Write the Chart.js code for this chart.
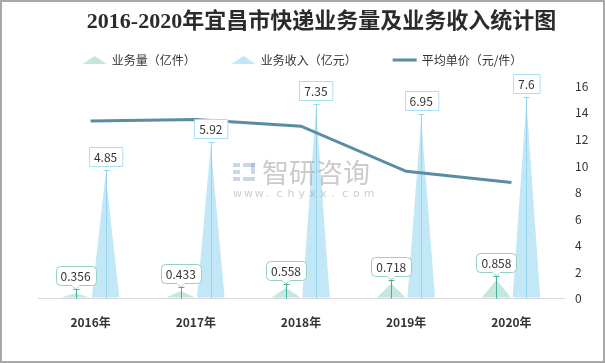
<!DOCTYPE html>
<html>
<head>
<meta charset="utf-8">
<script src="https://cdn.jsdelivr.net/npm/chart.js@4.4.0/dist/chart.umd.min.js"></script>
<style>
  html, body { margin: 0; padding: 0; background: #fff; }
</style>
</head>
<body>
<canvas id="chart" width="605" height="363"></canvas>
<script>
// data
const years     = ["2016年", "2017年", "2018年", "2019年", "2020年"];
const volume    = [0.356, 0.433, 0.558, 0.718, 0.858];   // 业务量（亿件）
const revenue   = [4.85, 5.92, 7.35, 6.95, 7.6];         // 业务收入（亿元）
const unitPrice = [13.4, 13.5, 13.0, 9.6, 8.75];         // 平均单价（元/件）
const leftMax   = 8;
const rightMax  = 16;
const rightStep = 2;

const CJK = '"Noto Sans CJK SC", "Liberation Sans", sans-serif';

// triangles + stems drawn on the library's bar elements
const spikes = {
    id: "spikes",
    afterDatasetDraw(chart, args) {
        const ds = chart.data.datasets[args.index];
        if (!ds.spike) return;
        const ctx = chart.ctx;
        args.meta.data.forEach(el => {
            const { x, y, base, width } = el.getProps(["x", "y", "base", "width"], true);
            ctx.save();
            ctx.fillStyle = ds.spike.fill;
            ctx.beginPath();
            ctx.moveTo(x - width / 2, base - 1);
            ctx.lineTo(x, y + 4);
            ctx.lineTo(x + width / 2, base - 1);
            ctx.closePath();
            ctx.fill();
            const sx = Math.round(x) + 0.5, sy = Math.round(y) + 0.5;
            ctx.strokeStyle = ds.spike.stem;
            ctx.lineWidth = 1;
            ctx.beginPath();
            ctx.moveTo(sx, base);
            ctx.lineTo(sx, sy);
            ctx.moveTo(sx - 3, sy);
            ctx.lineTo(sx + 3, sy);
            ctx.stroke();
            ctx.restore();
        });
    },
    afterDatasetsDraw(chart) {
        const ctx = chart.ctx;
        chart.data.datasets.forEach((ds, di) => {
            if (!ds.spike) return;
            const meta = chart.getDatasetMeta(di);
            meta.data.forEach((el, i) => {
                const { x, y } = el.getProps(["x", "y"], true);
                const txt = String(ds.data[i]);
                ctx.save();
                ctx.font = "12px " + CJK;
                const w = ctx.measureText(txt).width + 10, h = 19;
                const bx = Math.round(x - w / 2) + 0.5;
                const by = Math.round(y - 4 - h) + 0.5;
                ctx.fillStyle = "#fff";
                ctx.strokeStyle = ds.spike.label;
                ctx.lineWidth = 1;
                ctx.beginPath();
                if (ds.spike.rounded) {
                    ctx.roundRect(bx, by, w, h, 4);
                } else {
                    ctx.rect(bx, by, w, h);
                }
                ctx.fill();
                ctx.stroke();
                if (ds.spike.rounded) {
                    // little tail down to the tip
                    ctx.beginPath();
                    ctx.moveTo(x - 4, by + h);
                    ctx.lineTo(x, y);
                    ctx.lineTo(x + 4, by + h);
                    ctx.fillStyle = "#fff";
                    ctx.fill();
                    ctx.stroke();
                    ctx.fillRect(x - 3.5, by + h - 1, 7, 2);
                }
                ctx.fillStyle = "#333";
                ctx.textAlign = "center";
                ctx.textBaseline = "middle";
                ctx.fillText(txt, x, by + h / 2 + 0.5);
                ctx.restore();
            });
        });
    }
};

// custom legend, white background, watermark, frame
const decor = {
    id: "decor",
    beforeDraw(chart) {
        const ctx = chart.ctx;
        ctx.save();
        ctx.fillStyle = "#fff";
        ctx.fillRect(0, 0, chart.width, chart.height);
        ctx.restore();
    },
    afterDraw(chart) {
        const ctx = chart.ctx;
        ctx.save();

        // legend
        const items = [
            { text: "业务量（亿件）",   kind: "tri",  color: "#c3e5de" },
            { text: "业务收入（亿元）", kind: "tri",  color: "#bfe7f6" },
            { text: "平均单价（元/件）", kind: "line", color: "#5a8da2" }
        ];
        ctx.font = "12px " + CJK;
        const iconW = 24, gapT = 5, gapI = 36, ly = 60;
        const widths = items.map(it => iconW + gapT + ctx.measureText(it.text).width);
        const total = widths.reduce((a, b) => a + b, 0) + gapI * (items.length - 1);
        let lx = chart.width / 2 - total / 2;
        items.forEach((it, k) => {
            if (it.kind === "tri") {
                ctx.fillStyle = it.color;
                ctx.beginPath();
                ctx.moveTo(lx, ly + 4);
                ctx.lineTo(lx + iconW / 2, ly - 4);
                ctx.lineTo(lx + iconW, ly + 4);
                ctx.closePath();
                ctx.fill();
            } else {
                ctx.strokeStyle = it.color;
                ctx.lineWidth = 3;
                ctx.beginPath();
                ctx.moveTo(lx, ly);
                ctx.lineTo(lx + iconW, ly);
                ctx.stroke();
            }
            ctx.fillStyle = "#333";
            ctx.textAlign = "left";
            ctx.textBaseline = "middle";
            ctx.fillText(it.text, lx + iconW + gapT, ly);
            lx += widths[k] + gapI;
        });

        // watermark
        ctx.globalAlpha = 0.45;
        ctx.fillStyle = "#8fa3cf";
        ctx.fillRect(233, 163, 7, 4);
        ctx.fillRect(233, 170, 7, 4);
        ctx.fillRect(233, 177, 7, 4);
        ctx.fillRect(243, 163, 12, 4);
        ctx.fillRect(251, 163, 4, 11);
        ctx.fillRect(243, 177, 12, 4);
        ctx.fillStyle = "#8c8c8c";
        ctx.font = "27px " + CJK;
        ctx.textAlign = "left";
        ctx.textBaseline = "middle";
        ctx.fillText("智研咨询", 262, 173);
        ctx.font = "11px \"DejaVu Sans\", sans-serif";
        const url = "www.chyxx.com";
        let ux = 233;
        for (const ch of url) {
            ctx.fillText(ch, ux, 194);
            ux += 10.9;
        }
        ctx.globalAlpha = 1;

        // frame
        ctx.strokeStyle = "#a8a8a8";
        ctx.lineWidth = 2;
        ctx.strokeRect(1, 1, chart.width - 2, chart.height - 2);
        ctx.restore();
    }
};

new Chart(document.getElementById("chart"), {
    type: "bar",
    data: {
        labels: years,
        datasets: [
            {
                type: "line",
                label: "平均单价（元/件）",
                data: unitPrice,
                yAxisID: "y1",
                borderColor: "#5a8da2",
                borderWidth: 3,
                pointRadius: 0,
                tension: 0,
                order: 0
            },
            {
                label: "业务量（亿件）",
                data: volume,
                yAxisID: "y",
                backgroundColor: "rgba(0,0,0,0)",
                categoryPercentage: 0.57,
                barPercentage: 0.97,
                spike: { fill: "#c6e7e0", stem: "#45b09c", label: "#92d1c3", rounded: true },
                order: 1
            },
            {
                label: "业务收入（亿元）",
                data: revenue,
                yAxisID: "y",
                backgroundColor: "rgba(0,0,0,0)",
                categoryPercentage: 0.57,
                barPercentage: 0.92,
                spike: { fill: "#c2e8f7", stem: "#95d6ed", label: "#acdff1", rounded: false },
                order: 2
            }
        ]
    },
    options: {
        responsive: false,
        animation: false,
        layout: { padding: { left: 38, right: 0, top: 0, bottom: 16 } },
        plugins: {
            legend: { display: false },
            tooltip: { enabled: false },
            title: {
                display: true,
                text: "2016-2020年宜昌市快递业务量及业务收入统计图",
                color: "#2b2b2b",
                font: { size: 22, weight: "bold", family: '"Liberation Serif", "Noto Sans CJK SC", serif' },
                padding: { top: 9, bottom: 51 }
            }
        },
        scales: {
            x: {
                grid: { display: false, drawTicks: false },
                border: { display: true, color: "#d9d9d9", width: 1 },
                ticks: {
                    color: "#333",
                    padding: 17,
                    font: { size: 12, weight: "bold", family: CJK }
                }
            },
            y: {
                display: false,
                min: 0,
                max: leftMax
            },
            y1: {
                position: "right",
                min: 0,
                max: rightMax,
                grid: { display: false, drawTicks: false },
                border: { display: false },
                ticks: {
                    stepSize: rightStep,
                    color: "#333",
                    padding: 11,
                    font: { size: 12, family: CJK }
                },
                afterFit(scale) { scale.width = 41; }
            }
        }
    },
    plugins: [spikes, decor]
});
</script>
</body>
</html>
